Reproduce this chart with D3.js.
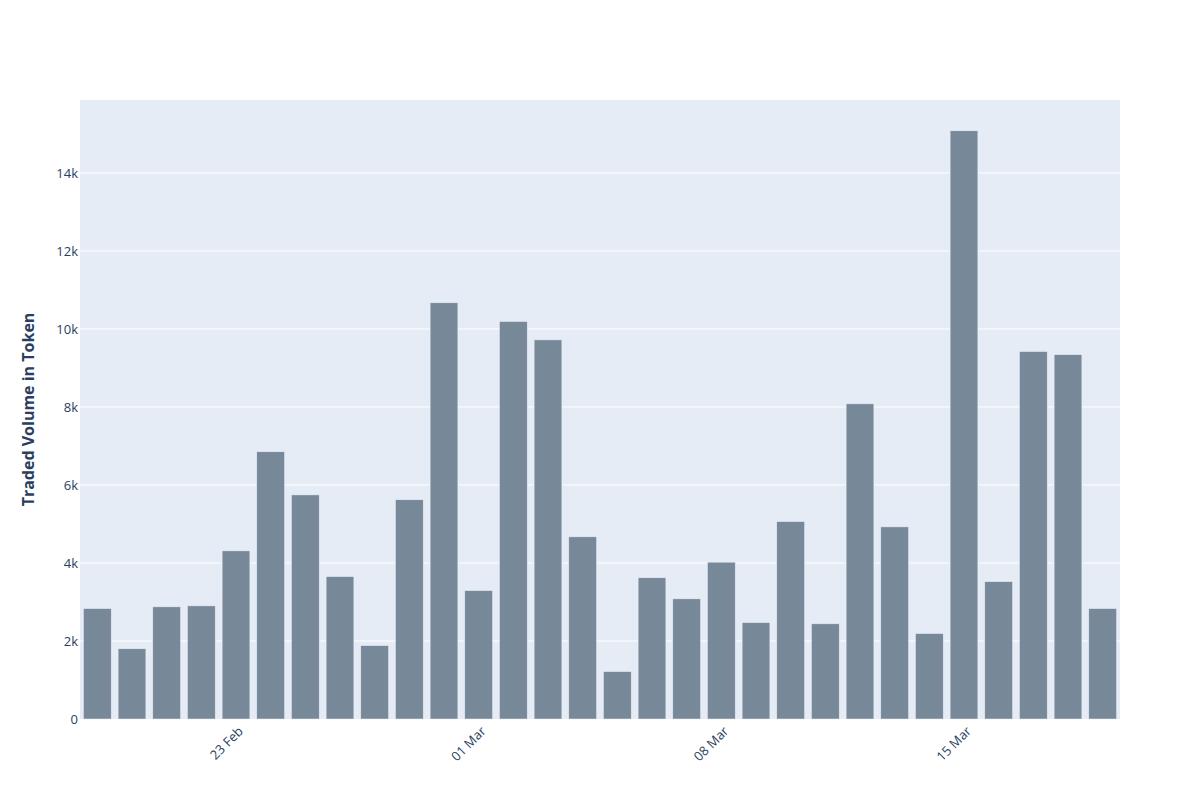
<!DOCTYPE html>
<html>
<head>
<meta charset="utf-8">
<script src="https://cdn.jsdelivr.net/npm/d3@7"></script>
<style>
  body { margin: 0; background: #fff; }
  svg text { font-family: "Open Sans", verdana, arial, sans-serif; }
</style>
</head>
<body>
<svg id="chart" width="1200" height="800"></svg>
<script>
/* Daily traded volume (token) - bar chart, plotly-like look */
const DATES = [
  "2020-02-19","2020-02-20","2020-02-21","2020-02-22","2020-02-23","2020-02-24",
  "2020-02-25","2020-02-26","2020-02-27","2020-02-28","2020-02-29","2020-03-01",
  "2020-03-02","2020-03-03","2020-03-04","2020-03-05","2020-03-06","2020-03-07",
  "2020-03-08","2020-03-09","2020-03-10","2020-03-11","2020-03-12","2020-03-13",
  "2020-03-14","2020-03-15","2020-03-16","2020-03-17","2020-03-18","2020-03-19"
];
const VOLUMES = [
  2830, 1800, 2875, 2900, 4310, 6850,
  5745, 3650, 1880, 5620, 10670, 3290,
  10190, 9720, 4670, 1215, 3620, 3080,
  4020, 2470, 5060, 2440, 8080, 4925,
  2190, 15080, 3520, 9420, 9340, 2830
];
const Y_TICKS = [0, 2000, 4000, 6000, 8000, 10000, 12000, 14000];
const X_TICKS = ["2020-02-23", "2020-03-01", "2020-03-08", "2020-03-15"];
const Y_TITLE = "Traded Volume in Token";

const svg = d3.select("#chart");
const margin = { top: 100, right: 80, bottom: 81, left: 80 };
const W = 1200, H = 800;
const iw = W - margin.left - margin.right;
const ih = H - margin.top - margin.bottom;

const parse = d3.timeParse("%Y-%m-%d");
const fmtDate = d3.timeFormat("%d %b");

const g = svg.append("g").attr("transform", `translate(${margin.left},${margin.top})`);

g.append("rect").attr("width", iw).attr("height", ih).attr("fill", "#E5ECF6");

const x = d3.scaleBand().domain(DATES).range([0, iw]).paddingInner(0.2).paddingOuter(0.1);
const y = d3.scaleLinear().domain([0, 15870]).range([ih, 0]);

// gridlines
g.append("g").selectAll("line")
  .data(Y_TICKS.filter(t => t > 0))
  .join("line")
  .attr("x1", 0).attr("x2", iw)
  .attr("y1", d => y(d)).attr("y2", d => y(d))
  .attr("stroke", "#fff").attr("stroke-width", 1);

// bars
g.append("g").selectAll("rect")
  .data(DATES.map((d, i) => ({ d, v: VOLUMES[i] })))
  .join("rect")
  .attr("x", d => x(d.d))
  .attr("y", d => y(d.v))
  .attr("width", x.bandwidth())
  .attr("height", d => ih - y(d.v))
  .attr("fill", "#778899")
  .attr("stroke", "#E5ECF6").attr("stroke-width", 0.5);

// y axis
const yAxis = g.append("g")
  .call(d3.axisLeft(y).tickValues(Y_TICKS).tickSize(0).tickPadding(2)
    .tickFormat(d => d === 0 ? "0" : (d / 1000) + "k"));
yAxis.select(".domain").remove();
yAxis.selectAll("text").attr("font-size", 13).attr("fill", "#2a3f5f");

// x axis (rotated date labels)
const xAxis = g.append("g").attr("transform", `translate(0,${ih})`)
  .call(d3.axisBottom(x).tickValues(X_TICKS).tickSize(0).tickPadding(0)
    .tickFormat(d => fmtDate(parse(d))));
xAxis.select(".domain").remove();
xAxis.selectAll("text")
  .attr("font-size", 13).attr("fill", "#2a3f5f")
  .attr("text-anchor", "end")
  .attr("dy", null)
  .attr("transform", "translate(8,13) rotate(-45)");

// y title
svg.append("text")
  .attr("transform", `translate(34,${margin.top + ih / 2}) rotate(-90)`)
  .attr("text-anchor", "middle")
  .attr("font-size", 16).attr("font-weight", "bold")
  .attr("fill", "#2a3f5f")
  .text(Y_TITLE);
</script>
</body>
</html>
